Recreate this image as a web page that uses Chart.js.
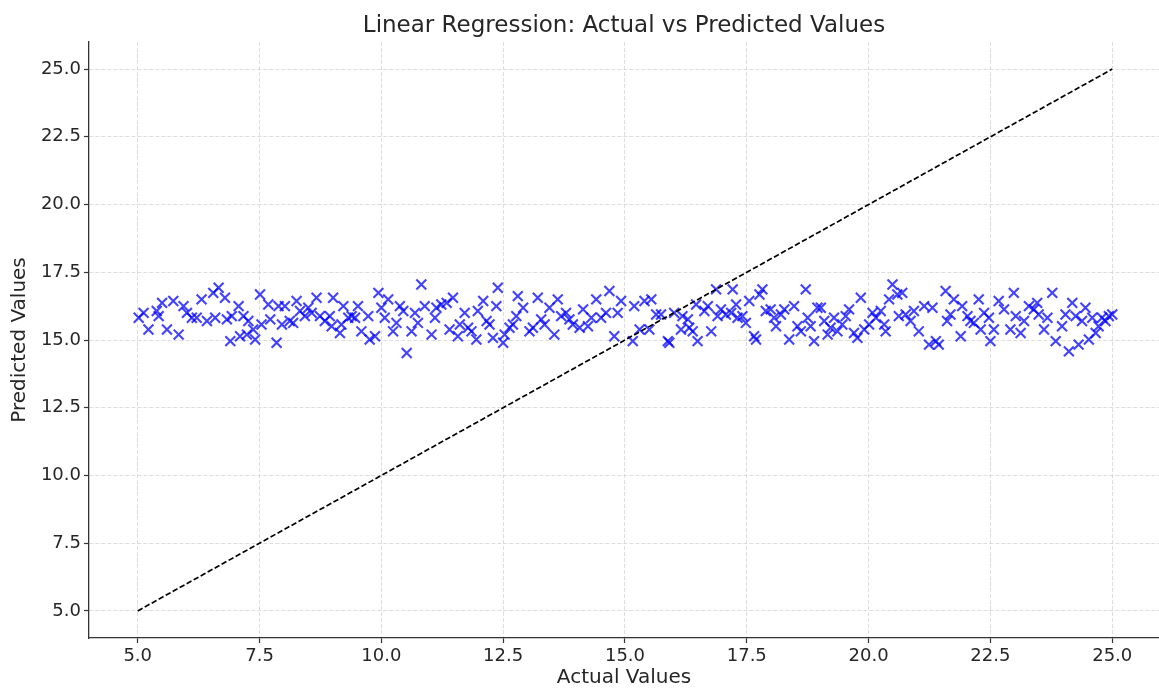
<!DOCTYPE html>
<html>
<head>
<meta charset="utf-8">
<script src="https://cdn.jsdelivr.net/npm/chart.js@4.4.1/dist/chart.umd.min.js"></script>
<style>
  html, body { margin: 0; padding: 0; background: #fff; overflow: hidden; }
  canvas { display: block; }
</style>
</head>
<body>
<canvas id="chart" width="1159" height="688"></canvas>
<script>
// values
const actualValues = [
  5.02,5.12,5.22,5.39,5.43,5.50,5.60,5.73,5.84,5.94,
  6.01,6.11,6.21,6.31,6.42,6.55,6.59,6.66,6.79,6.83,
  6.90,6.93,7.07,7.10,7.17,7.24,7.27,7.37,7.41,7.51,
  7.54,7.68,7.72,7.85,7.89,7.96,8.02,8.12,
  8.19,8.26,8.33,8.43,8.50,8.57,8.67,8.74,8.84,8.94,
  8.98,9.01,9.15,9.18,9.22,9.32,9.39,9.46,9.52,9.59,
  9.73,9.76,9.87,9.94,10.00,10.07,10.14,10.24,10.31,10.38,
  10.45,10.52,10.62,10.69,10.75,10.82,10.89,11.03,11.10,11.13,
  11.23,11.34,11.40,11.47,
  11.57,11.61,11.71,11.78,11.85,11.95,11.98,12.09,12.16,12.22,
  12.29,12.36,12.39,12.50,12.53,12.63,12.70,12.77,12.80,12.91,
  13.04,13.11,13.21,13.28,13.35,13.45,13.55,13.62,13.69,13.79,
  13.86,13.93,14.07,14.14,14.24,14.31,14.41,14.51,14.61,14.68,
  14.78,14.85,14.92,
  15.16,15.19,15.30,15.40,15.50,15.54,15.64,15.74,15.88,15.91,
  16.01,16.15,16.18,16.29,16.32,16.39,16.46,16.49,16.63,16.70,
  16.77,16.87,16.90,16.97,17.07,17.18,17.21,17.28,17.31,17.41,
  17.48,17.55,17.65,17.69,17.76,17.82,17.89,17.99,18.06,18.10,
  18.20,18.27,
  18.37,18.47,18.54,18.61,18.71,18.75,18.81,18.88,18.95,19.02,
  19.09,19.16,19.22,19.29,19.36,19.46,19.53,19.60,19.70,19.77,
  19.84,19.91,20.01,20.08,20.15,20.25,20.32,20.35,20.42,20.49,
  20.59,20.62,20.69,20.76,20.86,20.93,21.03,21.14,21.24,21.31,
  21.38,21.44,21.58,21.61,21.68,
  21.75,21.89,21.92,22.03,22.09,22.16,22.26,22.30,22.37,22.47,
  22.50,22.57,22.67,22.78,22.91,22.98,23.02,23.12,23.19,23.29,
  23.39,23.46,23.49,23.60,23.67,23.77,23.84,23.97,24.04,24.11,
  24.18,24.25,24.31,24.38,24.45,24.52,24.59,24.66,24.72,24.79,
  24.86,24.93,25.00
];

const predictedValues = [
  15.82,16.00,15.39,16.07,15.88,16.37,15.39,16.44,15.20,16.25,
  16.00,15.82,15.82,16.50,15.70,16.74,15.82,16.93,16.56,15.76,
  14.96,15.88,16.25,15.14,15.88,15.20,15.70,15.39,15.02,16.68,
  15.57,16.31,15.76,14.90,16.25,15.57,16.25,15.70,
  15.63,16.44,16.07,15.88,16.19,16.00,16.56,15.88,15.70,15.88,
  15.51,16.56,15.26,15.57,16.25,15.82,15.88,15.82,16.25,15.32,
  15.88,15.02,15.14,16.74,16.19,15.82,16.50,15.32,15.63,16.25,
  16.07,14.52,15.32,16.00,15.63,17.05,16.25,15.20,15.82,16.19,
  16.31,16.37,15.39,16.56,
  15.14,15.57,16.00,15.45,15.32,15.02,16.07,16.44,15.70,15.57,
  15.08,16.25,16.93,14.90,15.20,15.45,15.57,15.88,16.62,16.19,
  15.32,15.45,16.56,15.76,15.57,16.19,15.20,16.50,15.88,16.00,
  15.76,15.57,15.45,16.13,15.51,15.82,16.50,15.82,16.00,16.81,
  15.14,16.00,16.44,
  14.96,16.25,15.39,16.44,15.39,16.50,15.94,15.94,14.96,14.90,
  16.00,15.39,15.88,15.76,15.45,15.32,16.31,14.96,16.07,16.25,
  15.32,16.87,15.88,16.13,15.94,16.00,16.87,16.31,15.82,15.88,
  15.63,16.44,15.14,15.02,16.68,16.87,16.07,16.13,15.82,15.51,
  15.94,16.13,
  15.02,16.25,15.51,15.32,16.87,15.82,15.51,14.96,16.19,16.19,
  15.70,15.20,15.45,15.82,15.32,15.57,15.88,16.13,15.26,15.08,
  16.56,15.39,15.57,16.00,15.82,16.07,15.57,15.32,16.50,17.05,
  16.68,15.88,16.74,15.94,15.70,16.07,15.32,16.25,14.83,16.19,
  14.96,14.83,16.81,15.70,15.94,
  16.50,15.14,16.25,15.88,15.70,15.63,16.50,15.39,16.00,15.82,
  14.96,15.39,16.44,16.13,15.39,16.74,15.88,15.26,15.70,16.25,
  16.13,16.37,15.94,15.39,15.82,16.74,14.96,15.51,15.94,14.58,
  16.37,15.88,14.83,15.70,16.19,15.02,15.82,15.26,15.51,15.82,
  15.70,15.88,15.94
];

// perfect-prediction reference line
const idealLine = [5, 25];

const xTicks = [5, 7.5, 10, 12.5, 15, 17.5, 20, 22.5, 25];
const yTicks = [5, 7.5, 10, 12.5, 15, 17.5, 20, 22.5, 25];

const FONT = "'DejaVu Sans', sans-serif";
const TEXT = '#262626';

const scatterPoints = actualValues.map((x, i) => ({ x: x, y: predictedValues[i] }));
const linePoints = idealLine.map(v => ({ x: v, y: v }));

const gridOpts = {
  color: '#d4d4d4',
  lineWidth: 0.8,
  tickLength: 5,
  tickColor: '#333',
  tickWidth: 1.2,
  tickBorderDash: [],
};

new Chart(document.getElementById('chart'), {
  type: 'scatter',
  data: {
    datasets: [
      {
        label: 'Ideal',
        type: 'line',
        data: linePoints,
        borderColor: '#000',
        borderWidth: 1.7,
        borderDash: [5.5, 2.5],
        pointRadius: 0,
        fill: false,
        order: 0,
      },
      {
        label: 'Predicted',
        data: scatterPoints,
        pointStyle: 'crossRot',
        pointRadius: 7,
        pointBorderWidth: 2.1,
        pointBorderColor: 'rgba(0,0,255,0.74)',
        pointBackgroundColor: 'rgba(0,0,255,0.74)',
        pointHoverRadius: 7,
        order: 1,
      }
    ]
  },
  options: {
    responsive: false,
    animation: false,
    events: [],
    layout: { padding: 0, autoPadding: false },
    plugins: {
      legend: { display: false },
      tooltip: { enabled: false },
      title: {
        display: true,
        fullSize: false,
        text: 'Linear Regression: Actual vs Predicted Values',
        color: TEXT,
        font: { family: FONT, size: 23, weight: 'normal' },
        padding: { top: 12, bottom: 2.4 },
      }
    },
    scales: {
      x: {
        type: 'linear',
        min: 4,
        max: 25.96,
        afterBuildTicks: s => { s.ticks = xTicks.map(v => ({ value: v })); },
        afterFit: s => { s.height = 50; },
        ticks: {
          callback: v => Number(v).toFixed(1),
          color: TEXT,
          font: { family: FONT, size: 18 },
          padding: 3,
          maxRotation: 0,
          autoSkip: false,
        },
        grid: gridOpts,
        border: { display: true, color: '#333', width: 1.3, dash: [4, 2] },
        title: {
          display: true,
          text: 'Actual Values',
          color: TEXT,
          font: { family: FONT, size: 20 },
          padding: { top: 0, bottom: -2 },
        }
      },
      y: {
        type: 'linear',
        min: 4,
        max: 26,
        afterBuildTicks: s => { s.ticks = yTicks.map(v => ({ value: v })); },
        afterFit: s => { s.width = 89; },
        ticks: {
          callback: v => Number(v).toFixed(1),
          color: TEXT,
          font: { family: FONT, size: 18 },
          padding: 3,
          autoSkip: false,
        },
        grid: gridOpts,
        border: { display: true, color: '#333', width: 1.3, dash: [4, 2] },
        title: {
          display: true,
          text: 'Predicted Values',
          color: TEXT,
          font: { family: FONT, size: 20 },
          padding: { top: 8, bottom: 0 },
        }
      }
    }
  }
});
</script>
</body>
</html>
